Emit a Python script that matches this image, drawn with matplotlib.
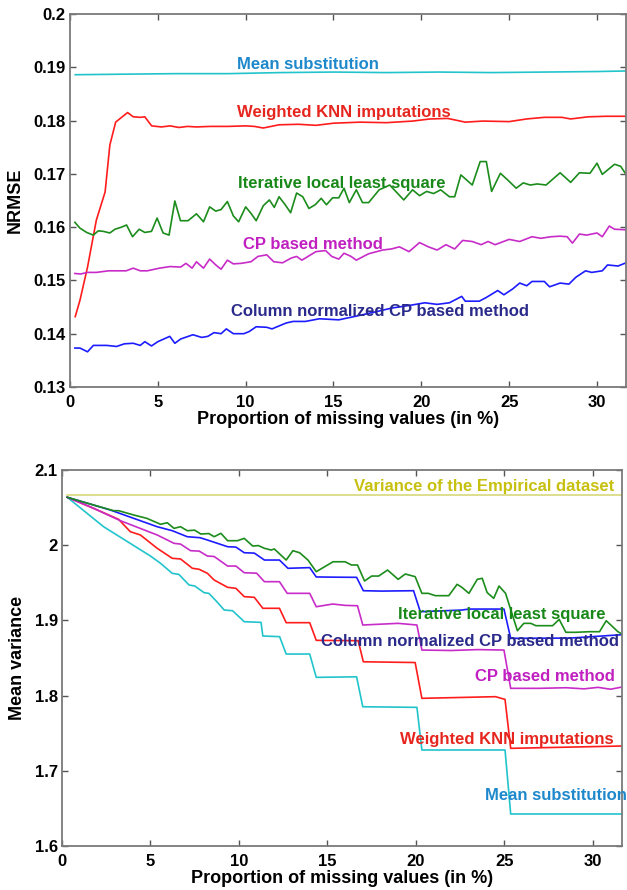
import matplotlib
matplotlib.use("Agg")
import matplotlib.pyplot as plt

plt.rcParams['font.family'] = ['Liberation Sans', 'DejaVu Sans']
plt.rcParams['font.weight'] = 'bold'

# ---------------- top panel: NRMSE ----------------
ms_x = [0.3, 3, 6, 9, 12, 15, 18, 21, 24, 27, 30, 31.65]
ms_y = [0.1886, 0.1887, 0.1888, 0.1888, 0.1890, 0.1891, 0.1890, 0.1891, 0.1890, 0.1891, 0.1892, 0.1893]

knn_x = [0.3, 0.57, 1.0, 1.5, 2.0, 2.27, 2.6, 2.9, 3.28, 3.6, 4.0, 4.26, 4.65, 5.2, 5.7, 6.2, 6.7, 7.2,
         8, 9, 10, 10.5, 11.0, 11.9, 13, 14, 15, 16.5, 18, 19.5, 20.5, 21.5, 22.5, 23.5, 25, 26, 27, 28,
         28.5, 29.5, 30.5, 31.65]
knn_y = [0.1432, 0.1463, 0.1525, 0.1613, 0.1666, 0.1754, 0.1797, 0.1805, 0.1815, 0.1807, 0.1806, 0.1807,
         0.1790, 0.1788, 0.1790, 0.1787, 0.1789, 0.1788, 0.1789, 0.1789, 0.1790, 0.1789, 0.1786, 0.1792,
         0.1793, 0.1791, 0.1795, 0.1797, 0.1796, 0.1799, 0.1803, 0.1804, 0.1797, 0.1799, 0.1798, 0.1803,
         0.1806, 0.1806, 0.1803, 0.1807, 0.1808, 0.1808]

ills_x = [0.28, 0.57, 0.95, 1.33, 1.61, 1.9, 2.27, 2.56, 2.94, 3.22, 3.56, 3.94, 4.26, 4.64, 4.96, 5.3,
          5.64, 5.97, 6.29, 6.72, 7.2, 7.6, 7.95, 8.3, 8.6, 8.96, 9.3, 9.6, 10.0, 10.3, 10.6, 11.0, 11.35,
          11.63, 11.9, 12.25, 12.56, 12.9, 13.25, 13.6, 13.96, 14.3, 14.6, 14.95, 15.3, 15.6, 15.9, 16.3,
          16.65, 17.0, 17.6, 18.2, 18.6, 19.0, 19.5, 19.9, 20.3, 20.7, 21.1, 21.6, 21.9, 22.25, 22.9, 23.35,
          23.7, 24.0, 24.5, 24.9, 25.4, 25.8, 26.2, 26.6, 27.1, 27.9, 28.5, 29.0, 29.6, 30.0, 30.3, 31.0,
          31.35, 31.65]
ills_y = [0.1609, 0.1598, 0.1590, 0.1585, 0.1593, 0.1592, 0.1589, 0.1596, 0.1600, 0.1604, 0.1582, 0.1596,
          0.1590, 0.1592, 0.1617, 0.1589, 0.1585, 0.1649, 0.1612, 0.1612, 0.1625, 0.1610, 0.1638, 0.1630,
          0.1633, 0.1648, 0.1621, 0.1610, 0.1638, 0.1626, 0.1612, 0.1640, 0.1651, 0.1637, 0.1657, 0.1642,
          0.1627, 0.1664, 0.1657, 0.1635, 0.1642, 0.1654, 0.1642, 0.1655, 0.1655, 0.1673, 0.1646, 0.1670,
          0.1646, 0.1646, 0.1670, 0.1679, 0.1665, 0.1651, 0.1670, 0.1659, 0.1667, 0.1663, 0.1670, 0.1657,
          0.1657, 0.1698, 0.1679, 0.1723, 0.1723, 0.1667, 0.1701, 0.1689, 0.1673, 0.1683, 0.1679, 0.1681,
          0.1679, 0.1702, 0.1684, 0.1702, 0.1701, 0.1720, 0.1699, 0.1718, 0.1714, 0.1699]

cp_x = [0.28, 0.6, 1.0, 1.5, 2.2, 3.2, 3.6, 4.0, 4.4, 5.1, 5.7, 6.3, 6.6, 6.95, 7.2, 7.6, 7.95, 8.3, 8.6,
        8.96, 9.3, 9.75, 10.3, 10.7, 11.2, 11.6, 12.1, 12.6, 12.9, 13.2, 13.6, 14.0, 14.55, 14.9, 15.3,
        15.6, 16.0, 16.3, 17.0, 17.8, 18.3, 18.75, 19.3, 19.9, 20.4, 20.9, 21.4, 21.9, 22.35, 22.9, 23.4,
        23.8, 24.2, 25.0, 25.6, 26.3, 26.8, 27.4, 27.9, 28.3, 28.6, 29.0, 29.4, 30.0, 30.3, 30.7, 31.0, 31.65]
cp_y = [0.1513, 0.1512, 0.1515, 0.1515, 0.1518, 0.1518, 0.1523, 0.1518, 0.1518, 0.1523, 0.1526, 0.1525,
        0.1532, 0.1523, 0.1535, 0.1523, 0.1540, 0.1529, 0.1521, 0.1538, 0.1531, 0.1532, 0.1535, 0.1545,
        0.1548, 0.1535, 0.1533, 0.1542, 0.1545, 0.1538, 0.1546, 0.1554, 0.1556, 0.1545, 0.1540, 0.1551,
        0.1545, 0.1538, 0.1550, 0.1557, 0.1559, 0.1563, 0.1554, 0.1571, 0.1563, 0.1557, 0.1567, 0.1559,
        0.1575, 0.1573, 0.1567, 0.1573, 0.1567, 0.1577, 0.1573, 0.1582, 0.1579, 0.1582, 0.1583, 0.1582,
        0.1570, 0.1587, 0.1585, 0.1589, 0.1582, 0.1602, 0.1596, 0.1595]

ncp_x = [0.28, 0.57, 1.0, 1.33, 2.1, 2.65, 3.1, 3.6, 4.0, 4.26, 4.64, 5.0, 5.68, 5.97, 6.3, 7.0, 7.5, 7.85,
         8.2, 8.6, 8.9, 9.3, 9.9, 10.2, 10.6, 11.2, 11.5, 12.3, 12.7, 13.4, 14.2, 15.3, 16.3, 17.4, 18.3,
         19.5, 20.2, 20.9, 21.6, 22.3, 22.5, 23.3, 23.7, 24.35, 24.7, 25.2, 25.6, 26.0, 26.3, 27.0, 27.3,
         27.9, 28.4, 28.8, 29.35, 29.7, 30.3, 30.6, 31.2, 31.65]
ncp_y = [0.1373, 0.1373, 0.1366, 0.1378, 0.1378, 0.1376, 0.1381, 0.1382, 0.1378, 0.1385, 0.1377, 0.1385,
         0.1395, 0.1382, 0.1390, 0.1398, 0.1393, 0.1395, 0.1402, 0.1400, 0.1409, 0.1400, 0.1400, 0.1404,
         0.1413, 0.1412, 0.1409, 0.1420, 0.1423, 0.1423, 0.1428, 0.1426, 0.1433, 0.1441, 0.1448, 0.1454,
         0.1458, 0.1455, 0.1458, 0.1470, 0.1461, 0.1461, 0.1468, 0.1481, 0.1473, 0.1484, 0.1495, 0.1490,
         0.1498, 0.1498, 0.1488, 0.1495, 0.1493, 0.1506, 0.1518, 0.1515, 0.1518, 0.1529, 0.1527, 0.1533]

# ---------------- bottom panel: mean variance ----------------
emp_x = [0.27, 31.65]
emp_y = [2.0668, 2.0668]

bms_x = [0.3, 2.35, 5.0, 5.57, 6.23, 6.6, 7.18, 7.5, 8.03, 8.3, 8.7, 9.17, 9.64, 10.3, 11.25, 11.35,
         12.3, 12.67, 14.0, 14.37, 16.65, 17.0, 20.06, 20.34, 25.04, 25.36, 31.65]
bms_y = [2.0637, 2.0246, 1.9856, 1.9759, 1.9626, 1.9613, 1.9471, 1.9458, 1.9369, 1.9360, 1.9262, 1.9138,
         1.9129, 1.8983, 1.8974, 1.8793, 1.8784, 1.8553, 1.8553, 1.8243, 1.8250, 1.7852, 1.7844, 1.7277,
         1.7277, 1.6426, 1.6426]

bknn_x = [0.3, 1.78, 3.2, 3.86, 4.43, 5.38, 6.23, 6.7, 7.37, 7.75, 8.22, 8.6, 9.36, 9.83, 10.3, 10.87,
          11.35, 12.29, 12.67, 14.0, 14.37, 16.74, 17.03, 19.96, 20.34, 24.5, 25.04, 25.36, 31.65]
bknn_y = [2.0637, 2.0491, 2.0344, 2.0180, 2.0136, 1.9959, 1.9826, 1.9817, 1.9693, 1.9680, 1.9626, 1.9537,
          1.9440, 1.9427, 1.9316, 1.9307, 1.9161, 1.9161, 1.8970, 1.8970, 1.8735, 1.8730, 1.8450, 1.8440,
          1.7964, 1.7986, 1.7950, 1.7299, 1.7330]

bcp_x = [0.3, 1.78, 3.3, 5.38, 6.33, 6.7, 7.27, 7.75, 8.22, 8.6, 9.36, 9.83, 10.3, 11.0, 11.44, 12.29,
         12.73, 14.0, 14.37, 15.3, 16.0, 16.7, 17.0, 19.0, 20.06, 20.34, 22.0, 23.5, 24.98, 25.36, 27.0,
         28.5, 29.5, 30.3, 31.0, 31.65]
bcp_y = [2.0637, 2.0491, 2.0326, 2.0136, 2.0025, 2.0015, 1.9927, 1.9922, 1.9856, 1.9850, 1.9723, 1.9723,
         1.9634, 1.9628, 1.9515, 1.9515, 1.9360, 1.9360, 1.9182, 1.9218, 1.9200, 1.9195, 1.8939, 1.8961,
         1.8939, 1.8606, 1.8600, 1.8612, 1.8606, 1.8097, 1.8097, 1.8105, 1.8090, 1.8110, 1.8085, 1.8114]

bncp_x = [0.3, 2.73, 5.38, 6.23, 7.08, 7.8, 8.22, 9.36, 9.83, 10.3, 10.87, 11.44, 12.29, 12.77, 14.0,
          14.37, 15.45, 16.65, 17.03, 18.06, 19.87, 20.25, 22.6, 23.0, 24.98, 25.36, 28.7, 31.65]
bncp_y = [2.0637, 2.0468, 2.0246, 2.0193, 2.0113, 2.0100, 2.0069, 1.9980, 1.9975, 1.9900, 1.9895, 1.9803,
          1.9803, 1.9693, 1.9702, 1.9578, 1.9575, 1.9573, 1.9395, 1.9390, 1.9395, 1.9116, 1.9138, 1.9151,
          1.9151, 1.8762, 1.8765, 1.8810]

bills_x = [0.3, 1.78, 2.92, 3.2, 4.05, 4.8, 5.57, 5.95, 6.33, 6.7, 7.08, 7.5, 7.84, 8.3, 8.6, 8.98, 9.36,
           9.92, 10.3, 10.78, 11.1, 11.44, 11.82, 12.0, 12.67, 13.05, 13.43, 13.9, 14.37, 15.32, 16.0,
           16.36, 16.7, 17.1, 17.5, 17.9, 18.4, 19.0, 19.4, 19.96, 20.34, 20.7, 21.1, 21.86, 22.33, 22.6,
           23.0, 23.47, 23.75, 24.03, 24.4, 24.7, 25.07, 25.74, 26.1, 26.5, 26.78, 27.73, 28.1, 28.48,
           29.05, 29.8, 30.38, 30.76, 31.42, 31.65]
bills_y = [2.0637, 2.0535, 2.0459, 2.0459, 2.0402, 2.0357, 2.0278, 2.0299, 2.0224, 2.0246, 2.0193, 2.0200,
           2.0149, 2.0155, 2.0113, 2.0158, 2.0060, 2.0060, 2.0091, 1.9989, 1.9995, 1.9959, 1.9936, 1.9950,
           1.9803, 1.9927, 1.9900, 1.9803, 1.9648, 1.9780, 1.9780, 1.9737, 1.9737, 1.9524, 1.9590, 1.9590,
           1.9670, 1.9546, 1.9617, 1.9582, 1.9360, 1.9360, 1.9329, 1.9329, 1.9480, 1.9440, 1.9360, 1.9546,
           1.9560, 1.9370, 1.9294, 1.9457, 1.9360, 1.8863, 1.8961, 1.8961, 1.8930, 1.8930, 1.9014, 1.8842,
           1.8842, 1.8850, 1.8850, 1.8996, 1.8850, 1.8819]

xticks = [0, 5, 10, 15, 20, 25, 30]
top_yticks = [0.13, 0.14, 0.15, 0.16, 0.17, 0.18, 0.19, 0.2]
top_ylabels = ['0.13', '0.14', '0.15', '0.16', '0.17', '0.18', '0.19', '0.2']
bot_yticks = [1.6, 1.7, 1.8, 1.9, 2.0, 2.1]
bot_ylabels = ['1.6', '1.7', '1.8', '1.9', '2', '2.1']

c_cyan, c_red, c_green, c_mag, c_blue, c_yel = '#22c4cc', '#ff1c1c', '#1c8c1c', '#c82cc8', '#1c1cff', '#d8d87a'
t_ms, t_knn, t_ills, t_cp, t_ncp, t_emp = '#1e88cc', '#e6261e', '#188818', '#c020c0', '#2a2a8a', '#c8c010'

fig = plt.figure(figsize=(6.27, 8.9), dpi=100)
ax1 = fig.add_axes([0.1116, 0.5652, 0.8868, 0.4191])
ax2 = fig.add_axes([0.0989, 0.0494, 0.8931, 0.4225])


def style_axes(ax):
    for s in ax.spines.values():
        s.set_color('#7a7a7a')
        s.set_linewidth(1.3)
    ax.tick_params(direction='in', length=4, width=1, color='#555555',
                   top=True, right=True, labelsize=12, pad=3)
    ax.tick_params(axis='x', pad=6)
    ax.set_xlim(0, 31.65)
    ax.set_xticks(xticks)
    ax.set_xticklabels([str(t) for t in xticks], fontweight='bold')


lw = 1.2
ax1.plot(ms_x, ms_y, color=c_cyan, lw=lw)
ax1.plot(knn_x, knn_y, color=c_red, lw=lw)
ax1.plot(ills_x, ills_y, color=c_green, lw=lw)
ax1.plot(cp_x, cp_y, color=c_mag, lw=lw)
ax1.plot(ncp_x, ncp_y, color=c_blue, lw=lw)
style_axes(ax1)
ax1.set_ylim(0.13, 0.2)
ax1.set_yticks(top_yticks)
ax1.set_yticklabels(top_ylabels, fontweight='bold')
ax1.set_ylabel('NRMSE', fontsize=13, fontweight='bold')
ax1.set_xlabel('Proportion of missing values (in %)', fontsize=13, fontweight='bold')
ax1.yaxis.set_label_coords(-0.083, 0.5)
ax1.xaxis.set_label_coords(0.5, -0.064)

tkw = dict(fontsize=12, fontweight='bold', ha='left', va='center')
ax1.text(9.5, 0.1906, 'Mean substitution', color=t_ms, **tkw)
ax1.text(9.5, 0.1816, 'Weighted KNN imputations', color=t_knn, **tkw)
ax1.text(9.55, 0.1681, 'Iterative local least square', color=t_ills, **tkw)
ax1.text(9.83, 0.1568, 'CP based method', color=t_cp, **tkw)
ax1.text(9.15, 0.1441, 'Column normalized CP based method', color=t_ncp, **tkw)

ax2.plot(emp_x, emp_y, color=c_yel, lw=lw)
ax2.plot(bms_x, bms_y, color=c_cyan, lw=lw)
ax2.plot(bknn_x, bknn_y, color=c_red, lw=lw)
ax2.plot(bcp_x, bcp_y, color=c_mag, lw=lw)
ax2.plot(bncp_x, bncp_y, color=c_blue, lw=lw)
ax2.plot(bills_x, bills_y, color=c_green, lw=lw)
style_axes(ax2)
ax2.set_ylim(1.6, 2.1)
ax2.set_yticks(bot_yticks)
ax2.set_yticklabels(bot_ylabels, fontweight='bold')
ax2.set_ylabel('Mean variance', fontsize=13, fontweight='bold')
ax2.set_xlabel('Proportion of missing values (in %)', fontsize=13, fontweight='bold')
ax2.yaxis.set_label_coords(-0.064, 0.5)
ax2.xaxis.set_label_coords(0.5, -0.064)

ax2.text(16.48, 2.0787, 'Variance of the Empirical dataset', color=t_emp, **tkw)
ax2.text(19.0, 1.908, 'Iterative local least square', color=t_ills, **tkw)
ax2.text(14.66, 1.8717, 'Column normalized CP based method', color=t_ncp, **tkw)
ax2.text(23.33, 1.826, 'CP based method', color=t_cp, **tkw)
ax2.text(19.1, 1.742, 'Weighted KNN imputations', color=t_knn, **tkw)
ax2.text(23.9, 1.667, 'Mean substitution', color=t_ms, **tkw)

fig.savefig('out.png', dpi=100)
